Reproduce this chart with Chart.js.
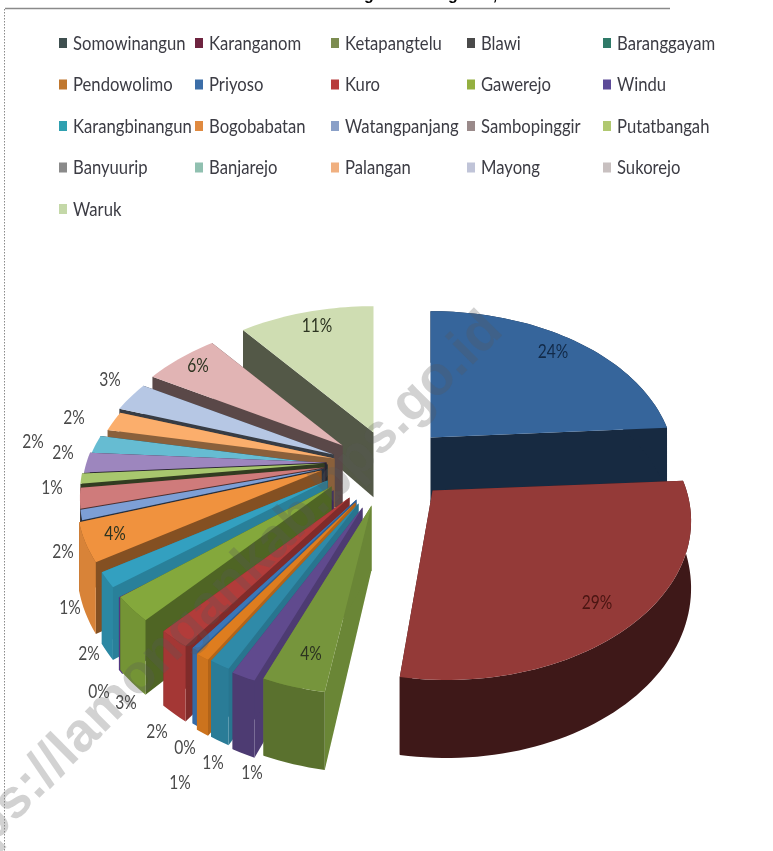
<!DOCTYPE html>
<html><head><meta charset="utf-8">
<style>html,body{margin:0;padding:0;background:#fff}#w{position:relative;width:773px;height:851px}</style>
<script src="https://cdn.jsdelivr.net/npm/chart.js@4"></script>
</head><body><div id="w"><canvas id="c" width="773" height="851"></canvas></div>
<script>
const categories = ["Somowinangun","Karanganom","Ketapangtelu","Blawi","Baranggayam","Pendowolimo","Priyoso","Kuro","Gawerejo","Windu","Karangbinangun","Bogobabatan","Watangpanjang","Sambopinggir","Putatbangah","Banyuurip","Banjarejo","Palangan","Mayong","Sukorejo","Waruk"];
const shares = [24,28.6,3.6,1.4,1.2,0.8,0.4,1.8,2.5,0.4,1.5,3.8,1,2,1,2,2,2,3,5.9,11.1];
const faceColors = ["#36659b","#943a38","#76953c","#604a8e","#2f8aa8","#de7d1f","#3a76b8","#b23c3a","#84a83c","#62409a","#33a0c0","#f0923e","#7d9fd6","#cf7b7b","#a8c76e","#9d86be","#66bcd2","#fbae6c","#b6c7e4","#e1b4b4","#cfddb2"];
const legendColors = ["#3f4f4f","#6e2440","#7c8c50","#4a4a4a","#2f7a68","#c0772e","#3c6ea8","#b83c3c","#94b040","#5c4a98","#2fa0b0","#e08a40","#8aa0c8","#9a8a8a","#b0c870","#8a8a8a","#90c0b0","#f0b080","#c0c4d8","#c8c0c0","#c4d8a8"];
const sideShade = [.42,.42,.9,.8,.85,.8,.8,.72,.6,.62,.8,.55,.3,.38,.3,.25,.25,.55,.3,.4,.4];
const rimShade  = [.42,.42,.76,.8,.9,.92,.9,.92,.88,.85,.85,.9,0,0,0,0,0,0,0,0,0];
// how far each slice is pulled out of the pie, relative to its centre
const explode = [[44,12],[60,65],[-15,80],[-24,82],[-28,78],[-31,77],[-30,74],[-37,72],[-55,61],[-53,65],[-59,55],[-65,45],[-62,43],[-62,42],[-62,38],[-60,37],[-59,39],[-52,33],[-53,29],[-44,20],[-13,7]];
const tipShift = [0,-14,0,0,0,0,0,0,0,0,0,0,0,0,0,0,0,0,0,0,0];
const labelSpots = [[553,352],[597,603],[311,654],[252,773],[213,763],[180,783],[185,748],[157,732],[126,703],[99,692],[89,654],[115,534],[70,608],[63,552],[52,488],[63,453],[33,442],[74,418],[110,380],[198,366],[317,326]];
const textFont = "Lato, 'Open Sans', sans-serif";

function shade(hex,f){const n=parseInt(hex.slice(1),16);const c=[n>>16,(n>>8)&255,n&255].map(v=>Math.round(v*f));return `rgb(${c[0]},${c[1]},${c[2]})`;}
function narrowText(ctx,s,x,y,k){ctx.fillText(s,x,y,ctx.measureText(s).width*k);}

const tiltedPie = {
  id:'tiltedPie',
  beforeDatasetDraw(chart){
    const ctx=chart.ctx, arcs=chart.getDatasetMeta(0).data;
    const up=-Math.PI/2;
    const proj=(a,th,z,ox,oy)=>{
      const R=a.outerRadius, s=Math.sin(th), v=-Math.cos(th);
      const rx=R*(1+.2*v), ry=R*.658*(1+.2*v);
      return [a.x+ox+rx*s, a.y+oy+ry*v+z];
    };
    const wallH=(v,R)=>R*(.27+.055*v);
    const order=arcs.map((a,i)=>{const m=(a.startAngle+a.endAngle)/2-up;return {a,i,t0:a.startAngle-up,t1:a.endAngle-up,key:-Math.cos(m)};}).sort((p,q)=>p.key-q.key);
    for(const {a,i,t0,t1} of order){
      const [ox,oy]=explode[i], R=a.outerRadius, col=faceColors[i];
      const ax=a.x+ox+tipShift[i], ay=a.y+oy, h0=wallH(0,R);
      const pts=[];const steps=Math.max(3,Math.ceil((t1-t0)/.03));
      for(let k=0;k<=steps;k++){pts.push(t0+(t1-t0)*k/steps);}
      const hOf=t=>wallH(-Math.cos(t),R);
      // radial walls
      for(const t of [t0,t1]){
        const p=proj(a,t,0,ox,oy);
        ctx.beginPath();ctx.moveTo(ax,ay);ctx.lineTo(p[0],p[1]);ctx.lineTo(p[0],p[1]+hOf(t));ctx.lineTo(ax,ay+h0);ctx.closePath();
        ctx.fillStyle=shade(col,sideShade[i]);ctx.fill();
      }
      // rim wall
      if(rimShade[i]>0){
        ctx.beginPath();
        pts.forEach((t,k)=>{const p=proj(a,t,0,ox,oy);k?ctx.lineTo(p[0],p[1]):ctx.moveTo(p[0],p[1]);});
        [...pts].reverse().forEach(t=>{const p=proj(a,t,hOf(t),ox,oy);ctx.lineTo(p[0],p[1]);});
        ctx.closePath();ctx.fillStyle=shade(col,rimShade[i]);ctx.fill();
      }
      // top face
      ctx.beginPath();ctx.moveTo(ax,ay);
      pts.forEach(t=>{const p=proj(a,t,0,ox,oy);ctx.lineTo(p[0],p[1]);});
      ctx.closePath();ctx.fillStyle=col;ctx.fill();
    }
    return false;
  },
  afterDatasetsDraw(chart){
    const ctx=chart.ctx;
    // watermark
    ctx.save();
    ctx.translate(494,322);ctx.rotate(-Math.PI/4);
    ctx.font="bold 55px 'Liberation Sans', Arial, sans-serif";
    ctx.fillStyle="rgba(90,90,90,.27)";ctx.textAlign="right";ctx.textBaseline="middle";
    ctx.fillText("https://lamongankab.bps.go.id",0,0);
    ctx.restore();
    ctx.save();
    // slice labels
    ctx.font="19px "+textFont;ctx.textAlign="center";ctx.textBaseline="middle";
    shares.forEach((v,i)=>{
      const dark=i<3||i===11||i>=19;
      ctx.fillStyle=i===0?"#122a48":i===1?"#4a1512":dark?"#2c3320":"#4a4a4a";
      narrowText(ctx,Math.round(v)+"%",labelSpots[i][0],labelSpots[i][1],.82);
    });
    // legend grid
    const cols=[59,195,331,467,603], rowH=41.5, top=43;
    ctx.textAlign="left";ctx.font="18.5px "+textFont;
    categories.forEach((name,i)=>{
      const x=cols[i%5], y=top+Math.floor(i/5)*rowH;
      ctx.fillStyle=legendColors[i];ctx.fillRect(x,y-5,8,10);
      ctx.fillStyle="#3c3c44";narrowText(ctx,name,x+14,y+1,.9);
    });
    // title: only the descenders of its cropped line remain in the picture
    ctx.fillStyle="#000";ctx.font="bold 16px 'Liberation Sans', Arial, sans-serif";ctx.textAlign="center";ctx.textBaseline="alphabetic";
    ctx.fillText("g",369,0);ctx.fillText("g",453,0);ctx.fillText(",",495,0);
    ctx.strokeStyle="#8a8a8a";ctx.lineWidth=1.5;
    ctx.beginPath();ctx.moveTo(670,8.5);ctx.lineTo(5,8.5);ctx.stroke();
    ctx.setLineDash([1.5,1.5]);ctx.lineWidth=1;
    ctx.beginPath();ctx.moveTo(4.5,9);ctx.lineTo(4.5,851);ctx.stroke();
    ctx.restore();
  }
};

new Chart(document.getElementById('c'),{
  type:'pie',
  data:{labels:categories,datasets:[{data:shares,backgroundColor:faceColors,borderWidth:0}]},
  options:{responsive:false,animation:false,radius:240,layout:{padding:0},
    plugins:{legend:{display:false},tooltip:{enabled:false},title:{display:false}}},
  plugins:[tiltedPie]
});
</script></body></html>
